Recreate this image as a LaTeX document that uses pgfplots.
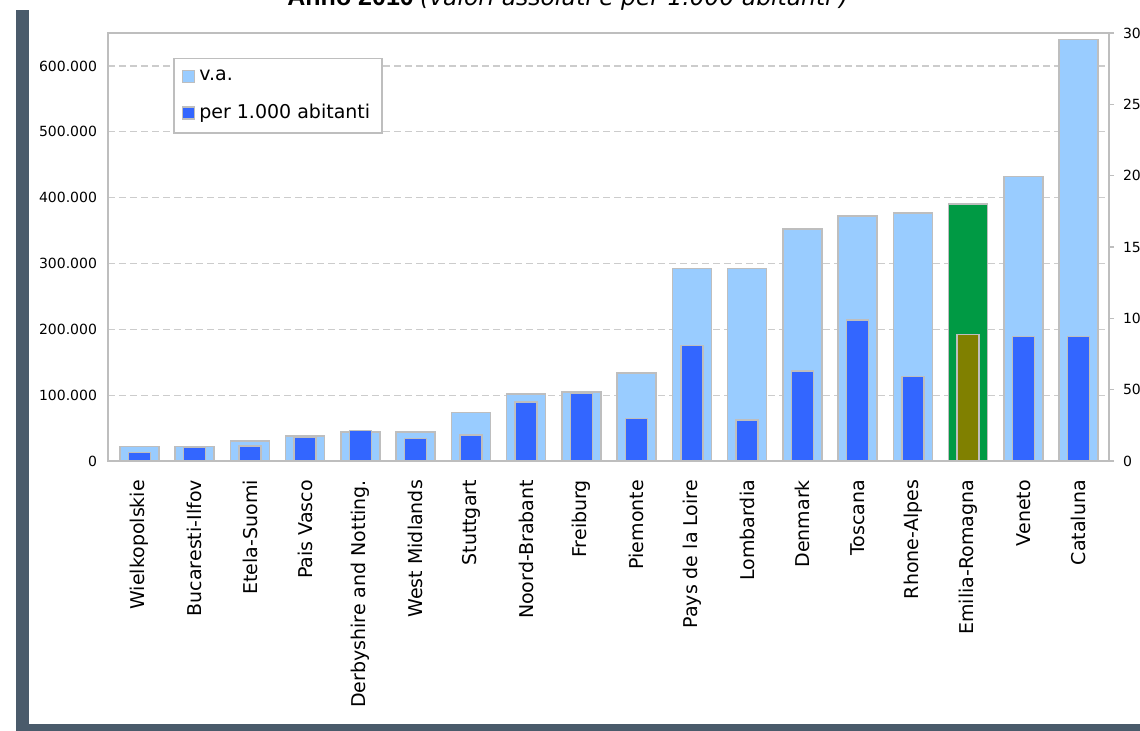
\documentclass[border=0pt]{standalone}
\usepackage{fontspec}
\setmainfont{DejaVu Sans}
\newfontfamily\arialfont{Liberation Sans}
\usepackage{pgfplots}
\usepackage{pgfplotstable}
\pgfplotsset{compat=1.18}
\definecolor{lightbar}{HTML}{99CCFF}
\definecolor{darkbar}{HTML}{3366FF}
\definecolor{greenbar}{HTML}{009A44}
\definecolor{olivebar}{HTML}{808000}
\definecolor{framegray}{HTML}{BEBEBE}
\definecolor{gridgray}{HTML}{CCCCCC}
\definecolor{slate}{HTML}{4A5B6B}

\pgfplotstableread{
x va per
0 22000 6.0
1 22000 9.3
2 30000 10.5
3 38000 16.8
4 44000 21.3
5 44000 15.9
6 74000 18.2
7 102000 41.4
8 105000 47.7
9 134000 29.9
10 292000 80.9
11 292000 28.8
12 352600 63.1
13 372000 98.7
14 377000 59.1
16 432000 87.2
17 640000 87.2
}\datatable

\pgfplotstableread{
x va per
15 390600 88.8
}\emiliatable

\pgfplotsset{
  mylegend/.style={legend image code/.code={\draw[##1, line width=0.75pt] (0pt,-3pt) rectangle (6pt,3pt);}},
  common/.style={scale only axis, width=500.5pt, height=214pt,
    at={(54pt,-230.5pt)}, anchor=south west,
    xmin=-0.57, xmax=17.55, ymin=0,
    axis line style={framegray, line width=0.75pt}},
}

\begin{document}
\begin{tikzpicture}
\useasboundingbox (0,0) rectangle (570pt,-365.5pt);
\clip (0,0) rectangle (570pt,-365.5pt);
\fill[slate] (8pt,-5pt) rectangle (14.5pt,-365.5pt);
\fill[slate] (8pt,-362pt) rectangle (570pt,-365.5pt);
\node[anchor=base west, inner sep=0pt] at (143.5pt,-3pt)
  {{\arialfont\bfseries\fontsize{12.5}{14}\selectfont Anno 2010} {\itshape\fontsize{11.7}{13}\selectfont (valori assoluti e per 1.000 abitanti )}};

\begin{axis}[common,
  ymax=650000,
  xtick={0,...,17},
  xticklabels={Wielkopolskie,Bucaresti-Ilfov,Etela-Suomi,Pais Vasco,Derbyshire and Notting.,West Midlands,Stuttgart,Noord-Brabant,Freiburg,Piemonte,Pays de la Loire,Lombardia,Denmark,Toscana,Rhone-Alpes,Emilia-Romagna,Veneto,Cataluna},
  xticklabel style={rotate=90, anchor=east, font=\fontsize{9.5}{11}\selectfont},
  xticklabel shift=6pt,
  major tick length=0pt,
  ytick={0,100000,200000,300000,400000,500000,600000},
  yticklabels={0,100.000,200.000,300.000,400.000,500.000,600.000},
  scaled y ticks=false,
  yticklabel style={font=\fontsize{7}{8}\selectfont},
  yticklabel shift=2pt,
  ymajorgrids,
  grid style={gridgray, dash pattern=on 3.5pt off 2pt, line width=0.6pt},
  legend style={at={(0.065,0.9416)}, anchor=north west, draw=framegray, line width=0.75pt,
    fill=white, font=\fontsize{9.5}{11}\selectfont, row sep=6.5pt, inner xsep=4pt, inner ysep=3.5pt},
  legend cell align=left,
]
\addplot[ybar, bar width=19.5pt, bar shift=0pt, fill=lightbar, draw=framegray, line width=0.75pt, forget plot]
  table[x=x,y=va]{\datatable};
\addplot[ybar, bar width=19.5pt, bar shift=0pt, fill=greenbar, draw=framegray, line width=0.75pt, forget plot]
  table[x=x,y=va]{\emiliatable};
\addlegendimage{mylegend, fill=lightbar, draw=framegray}
\addlegendentry{v.a.}
\addlegendimage{mylegend, fill=darkbar, draw=framegray}
\addlegendentry{per 1.000 abitanti}
\end{axis}

\begin{axis}[common,
  ymax=300,
  axis x line=none,
  axis y line*=right,
  ytick={0,50,100,150,200,250,300},
  yticklabels={0,50,100,150,200,250,300},
  yticklabel style={font=\fontsize{7}{8}\selectfont},
  yticklabel shift=1pt,
  tick align=outside,
  major tick length=2.5pt,
  tick style={framegray, line width=0.75pt},
]
\addplot[ybar, bar width=11pt, bar shift=0pt, fill=darkbar, draw=framegray, line width=0.75pt]
  table[x=x,y=per]{\datatable};
\addplot[ybar, bar width=11pt, bar shift=0pt, fill=olivebar, draw=framegray, line width=0.75pt]
  table[x=x,y=per]{\emiliatable};
\end{axis}
\end{tikzpicture}
\end{document}
